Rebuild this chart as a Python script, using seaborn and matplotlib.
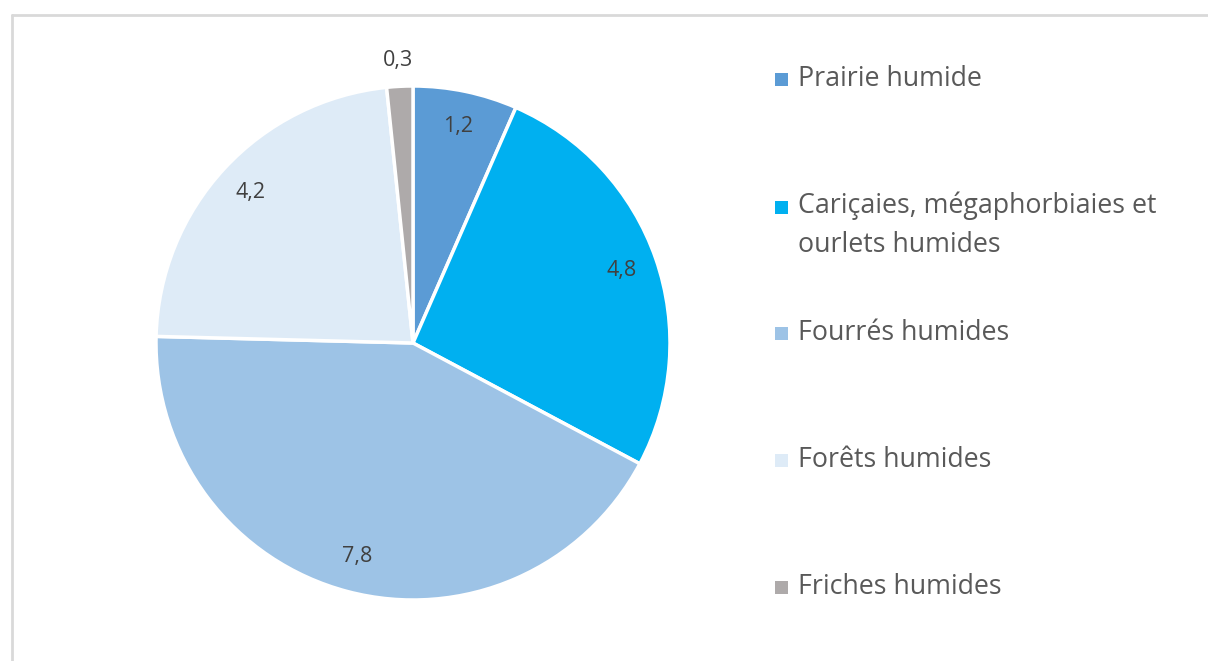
import matplotlib
matplotlib.use("Agg")
import matplotlib.pyplot as plt
import seaborn as sns
from matplotlib.patches import Rectangle
from matplotlib.lines import Line2D
import numpy as np

categories = ["Prairie humide", "Cariçaies, mégaphorbiaies et\nourlets humides",
              "Fourrés humides", "Forêts humides", "Friches humides"]
values = [1.2, 4.8, 7.8, 4.2, 0.3]
colors = ["#5B9BD5", "#00B0F0", "#9DC3E6", "#DEEBF7", "#AEAAAA"]

sns.set_theme(style="white")
plt.rcParams["font.family"] = ["Open Sans", "DejaVu Sans"]

W, H = 1208, 661
fig = plt.figure(figsize=(W / 100, H / 100), dpi=100)

# pie centre (413, 343) px, radius 257 px
cx, cy, r = 413, 343, 257
ax = fig.add_axes([(cx - r) / W, (H - cy - r) / H, 2 * r / W, 2 * r / H])
wedges, _ = ax.pie(values, colors=colors, startangle=90, counterclock=False,
                   wedgeprops=dict(edgecolor="white", linewidth=2.5))
ax.set_xlim(-1, 1)
ax.set_ylim(-1, 1)
ax.set_aspect("equal")
ax.axis("off")

# value labels
for w, v in zip(wedges, values):
    ang = np.deg2rad((w.theta1 + w.theta2) / 2)
    d = 1.10 if v < 1 else 0.86
    ax.text(d * np.cos(ang), d * np.sin(ang), f"{v:.1f}".replace(".", ","),
            ha="center", va="center", fontsize=15.5, color="#404040", clip_on=False)

# legend, drawn by hand
leg_y = [79, 207, 333, 460, 587]
for lab, col, y in zip(categories, colors, leg_y):
    fig.patches.append(Rectangle((775 / W, (H - y - 6.5) / H), 13 / W, 13 / H,
                                 transform=fig.transFigure, facecolor=col,
                                 edgecolor="none"))
    n = lab.count("\n")
    fig.text(798 / W, (H - y - n * 18) / H, lab, ha="left", va="center",
             fontsize=19.3, color="#595959", linespacing=1.54)

# outer frame (top and left visible)
fig.lines.append(Line2D([11.5 / W, 11.5 / W], [0, (H - 14.5) / H], transform=fig.transFigure,
                        color="#D9D9D9", linewidth=2))
fig.lines.append(Line2D([11.5 / W, 1], [(H - 14.5) / H, (H - 14.5) / H],
                        transform=fig.transFigure, color="#D9D9D9", linewidth=2))

fig.savefig("out.png", dpi=100, facecolor="white")
